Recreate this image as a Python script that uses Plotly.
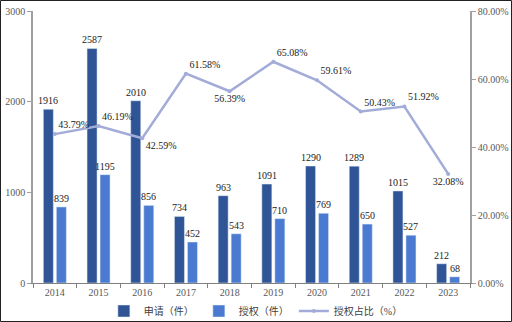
import plotly.graph_objects as go

years = ["2014", "2015", "2016", "2017", "2018", "2019", "2020", "2021", "2022", "2023"]
applied = [1916, 2587, 2010, 734, 963, 1091, 1290, 1289, 1015, 212]
granted = [839, 1195, 856, 452, 543, 710, 769, 650, 527, 68]
ratio = [43.79, 46.19, 42.59, 61.58, 56.39, 65.08, 59.61, 50.43, 51.92, 32.08]
ratio_pos = ["top right", "top right", "bottom right", "top right", "bottom center",
             "top right", "top right", "top right", "top right", "bottom center"]
names = ["申请（件）", "授权（件）", "授权占比（%）"]

serif = "Liberation Serif, Times New Roman, serif"
cjk = "Liberation Serif, Noto Sans CJK SC, sans-serif"
dark = "#2F5597"
light = "#4A7BD0"
linec = "#A3ACD8"

fig = go.Figure()
fig.add_trace(go.Bar(x=years, y=applied, name=names[0], marker_color=dark))
fig.add_trace(go.Bar(x=years, y=granted, name=names[1], marker_color=light))
fig.add_trace(go.Scatter(x=years, y=ratio, name=names[2], yaxis="y2", mode="lines+markers+text",
                         line=dict(color=linec, width=2.5), marker=dict(size=4, color=linec),
                         text=[f"{v:.2f}%" for v in ratio], textposition=ratio_pos,
                         textfont=dict(family=serif, size=10, color="#222"), cliponaxis=False))

# bar value labels: x given as category index on the category axis
for vals, shift in ((applied, -6.5), (granted, 6.5)):
    for i, v in enumerate(vals):
        fig.add_annotation(x=i, y=v, xref="x", yref="y", text=str(v), showarrow=False,
                           xshift=shift, yshift=1, yanchor="bottom",
                           font=dict(family=serif, size=10, color="#222"))

l, r, t, b = 33, 42, 11, 39
W, H = 512, 322
pw, ph = W - l - r, H - t - b

fig.update_layout(
    width=W, height=H,
    margin=dict(l=l, r=r, t=t, b=b, autoexpand=False),
    paper_bgcolor="white", plot_bgcolor="white",
    barmode="group", bargap=0.405, bargroupgap=0.23,
    font=dict(family=serif, size=10, color="#595959"),
    showlegend=True,
    legend=dict(orientation="h", x=0.51, xanchor="center", y=(H - b - 311) / ph, yanchor="middle",
                font=dict(family=cjk, size=10, color="#404040"), bgcolor="rgba(0,0,0,0)",
                itemwidth=30, tracegroupgap=0),
    xaxis=dict(type="category", range=[-0.5, len(years) - 0.5], showgrid=False, showline=True,
               linecolor="#808080", linewidth=1,
               ticks="outside", ticklen=4, tickcolor="#808080", tickson="boundaries",
               automargin=False,
               tickfont=dict(family=serif, size=10, color="#595959")),
    yaxis=dict(range=[0, 3000], dtick=1000, showgrid=False, showline=True, linecolor="#A0A0A0",
               linewidth=1.5, ticks="outside", ticklen=4, tickcolor="#A0A0A0", zeroline=False,
               automargin=False,
               tickfont=dict(family=serif, size=10, color="#595959")),
    yaxis2=dict(range=[0, 80], dtick=20, overlaying="y", side="right", showgrid=False,
                showline=True, linecolor="#A0A0A0", linewidth=1.5, ticks="outside", ticklen=4,
                tickcolor="#A0A0A0", ticksuffix="%", tickformat=".2f", zeroline=False,
                automargin=False,
                tickfont=dict(family=serif, size=10, color="#595959")),
)

fig.add_shape(type="rect", xref="paper", yref="paper",
              x0=(0.5 - l) / pw, x1=(W - 0.5 - l) / pw,
              y0=(H - b - (H - 0.5)) / ph, y1=(H - b - 0.5) / ph,
              line=dict(color="#222222", width=1), fillcolor="rgba(0,0,0,0)", layer="above")

fig.write_html("out.html")
